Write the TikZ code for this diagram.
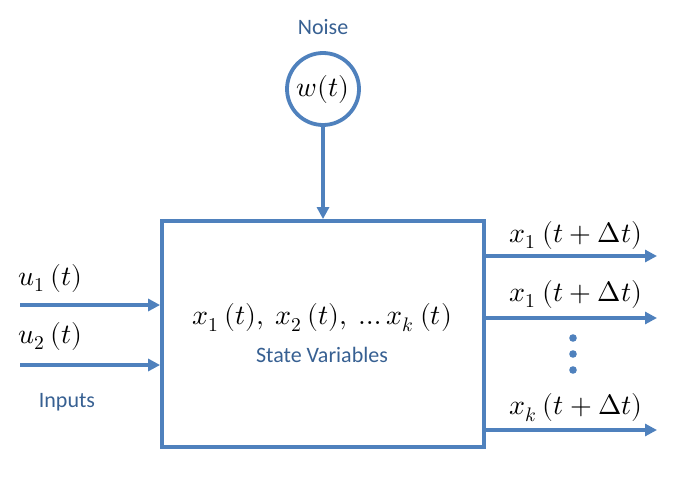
\documentclass[tikz,border=0pt]{standalone}
\usepackage{fontspec}
\usepackage{unicode-math}
\setmainfont{Carlito}
\setmathfont{Latin Modern Math}
\usetikzlibrary{arrows.meta}
\definecolor{lineblue}{RGB}{79,129,189}
\definecolor{textblue}{RGB}{55,96,146}
\begin{document}
\begin{tikzpicture}[x=1pt,y=-1pt,
    signal/.style={draw=lineblue, line width=3.8pt, -{Triangle[length=12pt,width=12pt]}},
    mathlabel/.style={font=\fontsize{28}{32}\selectfont, inner sep=0pt},
    bluelabel/.style={text=textblue, font=\fontsize{22}{26}\selectfont, inner sep=0pt}]
    \useasboundingbox (0,0) rectangle (687,476);
    \node(system) [rectangle, draw=lineblue, line width=3.8pt, minimum width=322pt, minimum height=226pt] at (323,334) {};
    \node(noise) [circle, draw=lineblue, line width=3.8pt, fill=white, minimum size=72pt, inner sep=0pt] at (323,89) {\fontsize{28}{32}\selectfont$w(t)$};
    \node(noiselabel) [bluelabel] at (323,27) {Noise};
    \node(states) [mathlabel] at (322,318) {$x_1\ (t),\ x_2\ (t),\ \ldots x_k\ (t)$};
    \node(statelabel) [bluelabel] at (322,355) {State Variables};
    % inputs
    \coordinate (in1) at (20,305);
    \coordinate (in2) at (20,365);
    \node(u1) [mathlabel, anchor=west] at (18,278) {$u_1\ (t)$};
    \node(u2) [mathlabel, anchor=west] at (18,336) {$u_2\ (t)$};
    \node(inputs) [bluelabel] at (67,402) {Inputs};
    \draw[signal] (in1) -- (in1 -| system.west);
    \draw[signal] (in2) -- (in2 -| system.west);
    % outputs
    \coordinate (out1) at (657,256);
    \coordinate (out2) at (657,318);
    \coordinate (outk) at (657,430);
    \node(x1) [mathlabel] at (576,235) {$x_1\ (t+\Delta t)$};
    \node(x2) [mathlabel] at (576,294) {$x_1\ (t+\Delta t)$};
    \node(xk) [mathlabel] at (576,408) {$x_k\ (t+\Delta t)$};
    \draw[signal] (out1 -| system.east) -- (out1);
    \draw[signal] (out2 -| system.east) -- (out2);
    \draw[signal] (outk -| system.east) -- (outk);
    \foreach \y in {338,354,370}
        \fill[lineblue] (573,\y) circle (3.8pt);
    % noise input
    \draw[signal] (noise) -- (system);
\end{tikzpicture}
\end{document}
